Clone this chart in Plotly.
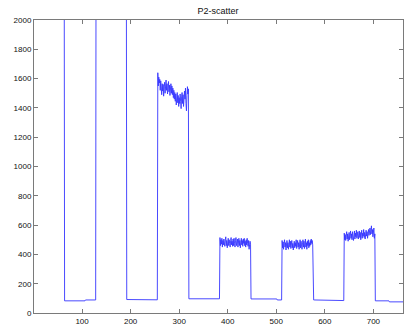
import numpy as np
import plotly.graph_objects as go

title_text = "P2-scatter"
x_first, x_last = 1, 761
x_ticks = [100, 200, 300, 400, 500, 600, 700]
y_ticks = [0, 200, 400, 600, 800, 1000, 1200, 1400, 1600, 1800, 2000]

off_scale = 3000  # samples above the visible 2000 limit

# flat stretches: (first sample, last sample, level)
flat_runs = [
    (1, 63, off_scale),
    (64, 106, 83), (107, 128, 89),
    (129, 191, off_scale),
    (192, 230, 92), (231, 255, 90),
    (320, 383, 97),
    (448, 501, 96), (502, 511, 89),
    (576, 620, 89), (621, 639, 85),
    (704, 732, 83), (733, 761, 76),
]

noisy_1 = [1640, 1550, 1610, 1570, 1595, 1520, 1585, 1540, 1490, 1565, 1515, 1560, 1480, 1545, 1575, 1500,
           1550, 1590, 1520, 1565, 1495, 1545, 1580, 1510, 1555, 1485, 1535, 1565, 1500, 1550, 1490, 1535,
           1470, 1520, 1460, 1505, 1445, 1495, 1420, 1475, 1505, 1435, 1485, 1410, 1470, 1430, 1495, 1445,
           1395, 1475, 1505, 1430, 1490, 1410, 1465, 1515, 1460, 1535, 1430, 1380, 1485, 1545, 1495, 1530]
noisy_2 = [515, 460, 500, 470, 510, 450, 495, 465, 505, 480, 455, 500, 520, 460, 495, 445,
           490, 510, 460, 500, 475, 450, 495, 515, 465, 490, 455, 505, 460, 510, 475, 450,
           495, 515, 460, 490, 505, 450, 480, 510, 460, 495, 445, 490, 510, 465, 495, 455,
           505, 475, 510, 460, 490, 450, 500, 465, 510, 475, 455, 495, 435, 465, 490, 470]
noisy_3 = [495, 445, 485, 435, 475, 500, 450, 480, 430, 475, 495, 445, 480, 435, 470, 500,
           450, 490, 440, 475, 495, 445, 475, 430, 470, 490, 445, 480, 455, 500, 440, 475,
           495, 450, 480, 435, 475, 500, 445, 490, 465, 435, 480, 500, 450, 490, 440, 475,
           505, 450, 480, 435, 490, 460, 500, 445, 480, 455, 495, 465, 505, 475, 495, 465]
noisy_4 = [545, 500, 535, 495, 530, 555, 505, 540, 490, 525, 550, 500, 535, 560, 510, 540,
           500, 555, 525, 495, 535, 560, 505, 545, 520, 565, 510, 540, 555, 505, 535, 560,
           515, 550, 500, 540, 565, 510, 545, 525, 570, 515, 550, 505, 545, 565, 525, 555,
           510, 550, 570, 530, 555, 580, 535, 560, 595, 540, 570, 520, 555, 580, 510, 540]
noisy_runs = [(256, noisy_1), (384, noisy_2), (512, noisy_3), (640, noisy_4)]

# assemble the sampled signal
x = np.arange(x_first, x_last + 1)
y = np.zeros(len(x))
for a, b, lvl in flat_runs:
    y[a - x_first:b - x_first + 1] = lvl
for a, vals in noisy_runs:
    y[a - x_first:a - x_first + len(vals)] = vals

fig = go.Figure(go.Scatter(x=x, y=y, mode="lines",
                           line=dict(color="#3636ff", width=0.9)))

axis_common = dict(showline=True, linecolor="#7a7a7a", linewidth=1, mirror="ticks",
                   ticks="inside", ticklen=4, tickcolor="#7a7a7a", showgrid=False,
                   zeroline=False, tickfont=dict(size=8, color="#111111"))
fig.update_layout(
    width=404, height=328,
    margin=dict(l=34, r=1, t=20, b=15),
    paper_bgcolor="white", plot_bgcolor="white",
    font=dict(family="Liberation Sans, Arial, sans-serif", size=8, color="#111111"),
    title=dict(text=title_text, x=218 / 404, xanchor="center", y=1 - 11 / 328,
               yanchor="middle", font=dict(size=9)),
    xaxis=dict(range=[x_first, x_last], tickvals=x_ticks, **axis_common),
    yaxis=dict(range=[0, 2000], tickvals=y_ticks, **axis_common),
    showlegend=False,
)
fig.write_html("out.html")
